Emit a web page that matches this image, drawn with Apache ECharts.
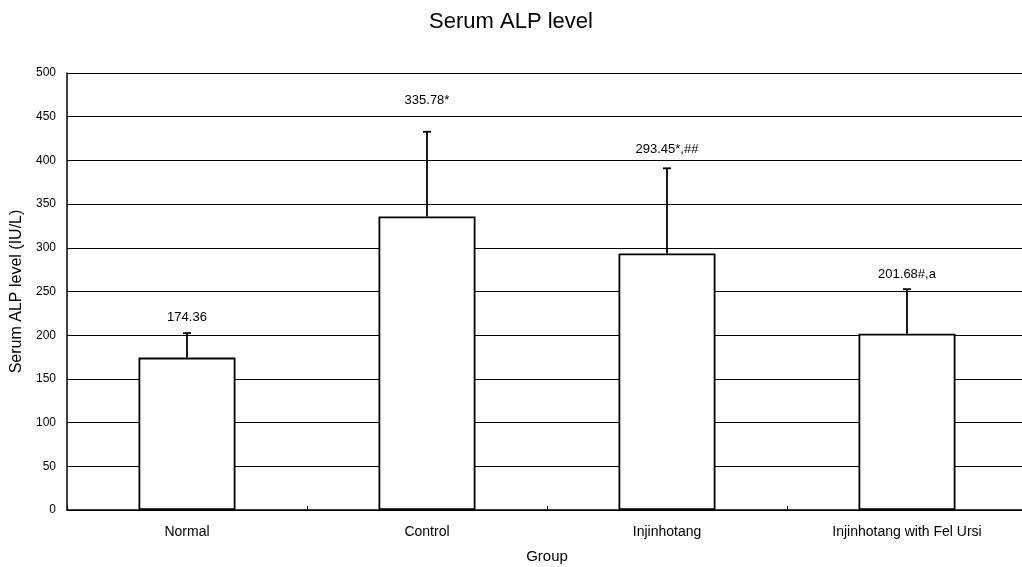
<!DOCTYPE html>
<html lang="en">
<head>
  <meta charset="UTF-8">
  <title>Serum ALP level</title>
  <style>
    html, body { margin: 0; padding: 0; background: #fff; }
    #myEcharts { width: 1022px; height: 567px; }
  </style>
  <script src="https://cdn.jsdelivr.net/npm/echarts@6/dist/echarts.min.js"></script>
</head>
<body>
  <div id="myEcharts"></div>
  <script>
    // data
    var groups = ['Normal', 'Control', 'Injinhotang', 'Injinhotang with Fel Ursi'];
    var means = [174.36, 335.78, 293.45, 201.68];
    var sds = [28, 97, 97.5, 51];
    var labels = ['174.36', '335.78*', '293.45*,##', '201.68#,a'];
    var labelGap = [16, 31, 19, 15];

    var font = 'Liberation Sans, Arial, sans-serif';
    var myChart = echarts.init(document.getElementById('myEcharts'));

    // error bar: only the upper half, with a small cap, plus the value text
    function renderError(params, api) {
      var i = api.value(0);
      var base = api.coord([i, api.value(1)]);
      var top = api.coord([i, api.value(2)]);
      var cap = 4;
      var style = { stroke: '#000', lineWidth: 1.8 };
      return {
        type: 'group',
        children: [
          { type: 'line', shape: { x1: base[0], y1: base[1], x2: top[0], y2: top[1] }, style: style },
          { type: 'line', shape: { x1: top[0] - cap, y1: top[1], x2: top[0] + cap, y2: top[1] }, style: style },
          {
            type: 'text',
            x: top[0], y: top[1] - labelGap[i],
            style: {
              text: labels[i], fill: '#000', font: '13px ' + font,
              align: 'center', verticalAlign: 'middle'
            }
          }
        ]
      };
    }

    var errData = groups.map(function (g, i) {
      return [i, means[i], means[i] + sds[i]];
    });

    var option = {
      animation: false,
      backgroundColor: '#fff',
      title: {
        text: 'Serum ALP level',
        left: 'center',
        top: 6,
        textStyle: { fontFamily: font, fontSize: 22, fontWeight: 'normal', color: '#000' }
      },
      grid: { left: 67, top: 73, width: 960, height: 437, outerBoundsMode: 'none', containLabel: false },
      xAxis: {
        type: 'category',
        data: groups,
        name: 'Group',
        nameLocation: 'middle',
        nameGap: 39,
        nameTextStyle: { fontFamily: font, fontSize: 15, color: '#000' },
        axisLine: { lineStyle: { color: '#000', width: 1.5 } },
        axisTick: { show: true, inside: true, length: 4, lineStyle: { color: '#000' } },
        axisLabel: { fontFamily: font, fontSize: 14, color: '#000', margin: 15 },
        splitLine: { show: false }
      },
      yAxis: {
        type: 'value',
        min: 0,
        max: 500,
        interval: 50,
        name: 'Serum ALP level (IU/L)',
        nameLocation: 'middle',
        nameGap: 41,
        nameTextStyle: { fontFamily: font, fontSize: 16, color: '#000' },
        axisLine: { show: true, lineStyle: { color: '#000', width: 1.5 } },
        axisTick: { show: false },
        axisLabel: { fontFamily: font, fontSize: 12, color: '#000', margin: 11 },
        splitLine: { show: true, lineStyle: { color: '#000', width: 1.2 } }
      },
      series: [
        {
          type: 'bar',
          data: means,
          barWidth: 97,
          itemStyle: { color: '#fff', borderColor: '#000', borderWidth: 1.8 },
          z: 3
        },
        {
          type: 'custom',
          data: errData,
          renderItem: renderError,
          z: 4
        }
      ]
    };

    myChart.setOption(option);
  </script>
</body>
</html>
